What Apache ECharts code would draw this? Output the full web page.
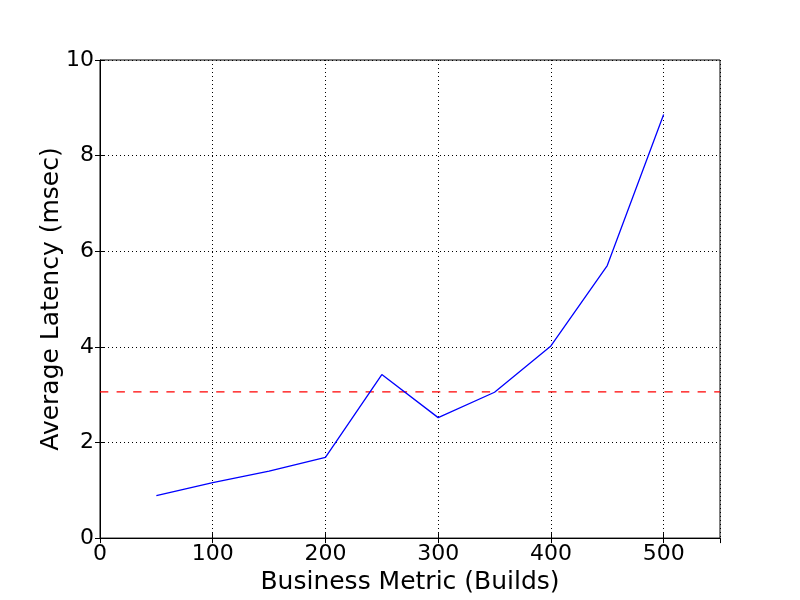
<!DOCTYPE html>
<html>
<head>
<meta charset="utf-8">
<script src="https://cdn.jsdelivr.net/npm/echarts@6/dist/echarts.min.js"></script>
<style>html,body{margin:0;padding:0;background:#fff}#main{width:800px;height:600px}</style>
</head>
<body>
<div id="main"></div>
<script>
const builds = [50, 100, 150, 200, 250, 300, 350, 400, 450, 500];
const latency = [0.89, 1.16, 1.40, 1.69, 3.42, 2.52, 3.05, 4.02, 5.70, 8.86];
const threshold = 3.06;
const xRange = [0, 550];
const yRange = [0, 10];

const font = 'DejaVu Sans';
const chart = echarts.init(document.getElementById('main'), null, {renderer: 'canvas'});
const tickInside = {show: true, inside: true, length: 5, lineStyle: {color: '#000', width: 1}};
chart.setOption({
  animation: false,
  backgroundColor: '#fff',
  grid: {left: 100, right: 80, top: 60, bottom: 60, show: true, borderColor: '#000', borderWidth: 1, backgroundColor: 'transparent'},
  xAxis: [{
    type: 'value', min: xRange[0], max: xRange[1], interval: 100,
    name: 'Business Metric (Builds)', nameLocation: 'middle', nameGap: 26,
    nameTextStyle: {fontFamily: font, fontSize: 25, color: '#000'},
    axisLine: {show: true, lineStyle: {color: '#000', width: 1}},
    axisTick: tickInside,
    axisLabel: {fontFamily: font, fontSize: 22, color: '#000', margin: 5, showMaxLabel: false},
    splitLine: {show: true, lineStyle: {color: '#000', type: [1, 3], width: 1}}
  }, {
    type: 'value', position: 'top', min: xRange[0], max: xRange[1], interval: 100,
    axisLine: {show: false}, axisTick: tickInside, axisLabel: {show: false}, splitLine: {show: false}
  }],
  yAxis: [{
    type: 'value', min: yRange[0], max: yRange[1], interval: 2,
    name: 'Average Latency (msec)', nameLocation: 'middle', nameGap: 36, nameMoveOverlap: false,
    nameTextStyle: {fontFamily: font, fontSize: 25, color: '#000'},
    axisLine: {show: true, lineStyle: {color: '#000', width: 1}},
    axisTick: tickInside,
    axisLabel: {fontFamily: font, fontSize: 22, color: '#000', margin: 6},
    splitLine: {show: true, lineStyle: {color: '#000', type: [1, 3], width: 1}}
  }, {
    type: 'value', position: 'right', min: yRange[0], max: yRange[1], interval: 2,
    axisLine: {show: false}, axisTick: tickInside, axisLabel: {show: false}, splitLine: {show: false}
  }],
  series: [{
    type: 'line',
    data: builds.map((b, i) => [b, latency[i]]),
    showSymbol: false, symbol: 'none',
    lineStyle: {color: '#0000ff', width: 1.3},
    z: 3
  }, {
    type: 'line',
    data: [[xRange[0], threshold], [xRange[1], threshold]],
    showSymbol: false, symbol: 'none',
    lineStyle: {color: '#ff0000', width: 1.3, type: [8.3, 8.3]},
    z: 2
  }]
});
</script>
</body>
</html>
